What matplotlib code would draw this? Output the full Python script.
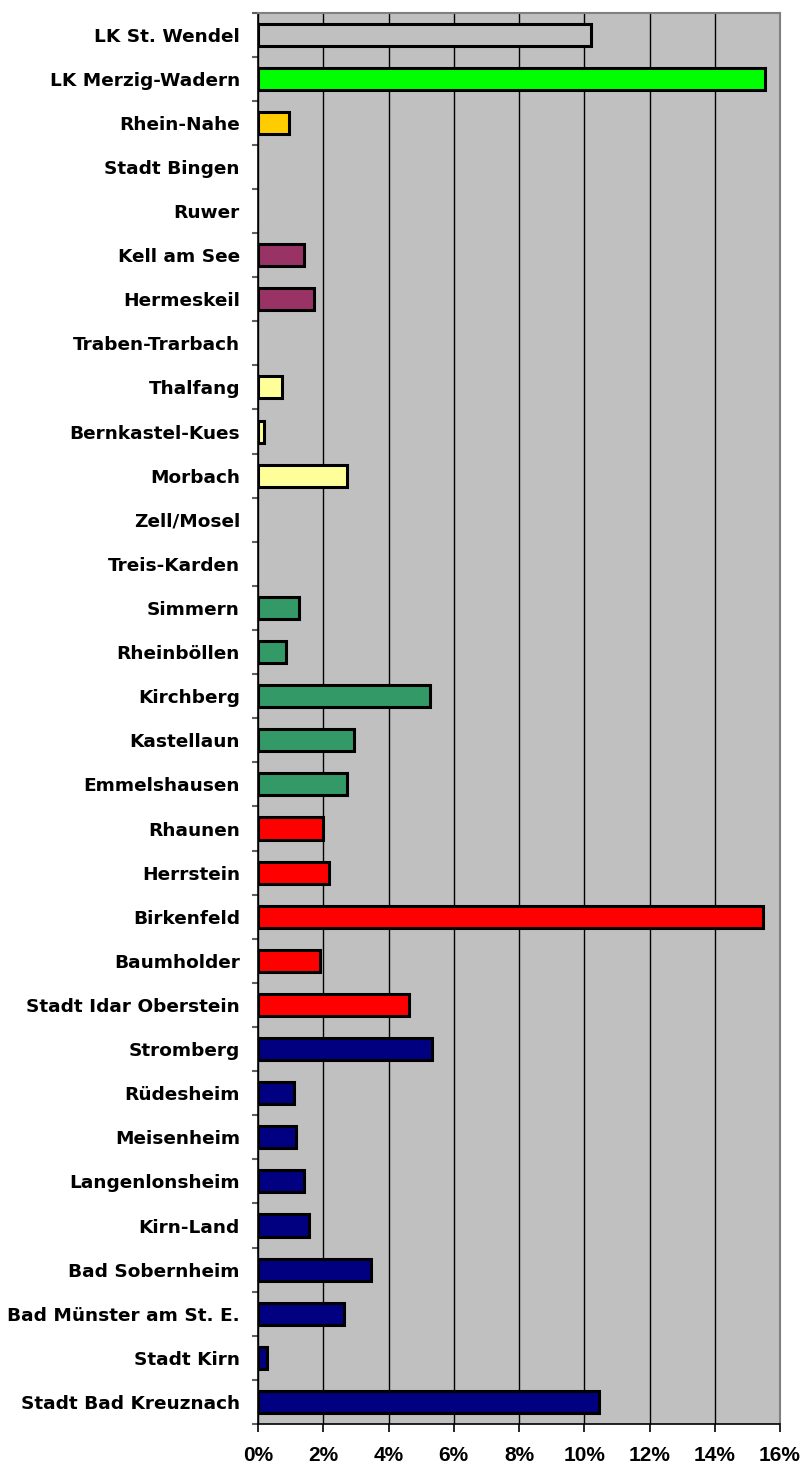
import numpy as np
import matplotlib.pyplot as plt
from matplotlib.ticker import FuncFormatter

# Kategorien (von oben nach unten) und Anteile in %
regions = ['LK St. Wendel', 'LK Merzig-Wadern', 'Rhein-Nahe', 'Stadt Bingen', 'Ruwer',
           'Kell am See', 'Hermeskeil', 'Traben-Trarbach', 'Thalfang', 'Bernkastel-Kues',
           'Morbach', 'Zell/Mosel', 'Treis-Karden', 'Simmern', 'Rheinböllen', 'Kirchberg',
           'Kastellaun', 'Emmelshausen', 'Rhaunen', 'Herrstein', 'Birkenfeld', 'Baumholder',
           'Stadt Idar Oberstein', 'Stromberg', 'Rüdesheim', 'Meisenheim', 'Langenlonsheim',
           'Kirn-Land', 'Bad Sobernheim', 'Bad Münster am St. E.', 'Stadt Kirn',
           'Stadt Bad Kreuznach']
values = [10.2, 15.54, 0.96, 0, 0,
          1.40, 1.73, 0, 0.73, 0.17,
          2.73, 0, 0, 1.27, 0.86, 5.27,
          2.95, 2.73, 1.99, 2.17, 15.49, 1.91,
          4.64, 5.32, 1.10, 1.15, 1.42,
          1.55, 3.47, 2.65, 0.28,
          10.44]
colors = ['#C0C0C0', '#00FF00', '#FFCC00', '#FFFFFF', '#FFFFFF',
          '#993366', '#993366', '#FFFF99', '#FFFF99', '#FFFF99',
          '#FFFF99', '#339966', '#339966', '#339966', '#339966', '#339966',
          '#339966', '#339966', '#FF0000', '#FF0000', '#FF0000', '#FF0000',
          '#FF0000', '#000080', '#000080', '#000080', '#000080',
          '#000080', '#000080', '#000080', '#000080',
          '#000080']
xticks = [0, 2, 4, 6, 8, 10, 12, 14, 16]

plt.rcParams['font.family'] = ['DejaVu Sans']
plt.rcParams['font.weight'] = 'bold'

fig = plt.figure(figsize=(8.02, 14.70), dpi=100)
ax = fig.add_axes([258 / 802, 1 - 1424 / 1470, 522 / 802, (1424 - 12.5) / 1470])
ax.set_facecolor('#C0C0C0')

y = np.arange(len(regions))
lw = [0 if v == 0 else 2.2 for v in values]
ax.barh(y, values, height=0.5, color=colors, edgecolor='black', linewidth=lw, zorder=3)

ax.set_xlim(0, 16)
ax.set_ylim(len(regions) - 0.5, -0.5)

ax.set_xticks(xticks)
ax.xaxis.set_major_formatter(FuncFormatter(lambda v, p: f'{v:.0f}%'))
ax.grid(axis='x', color='black', linewidth=1.0, zorder=1)

ax.set_yticks(y)
ax.set_yticklabels(regions)
ax.set_yticks(np.arange(-0.5, len(regions), 1), minor=True)
ax.tick_params(axis='y', which='major', length=0, pad=13, labelsize=13.3)
ax.tick_params(axis='y', which='minor', length=4.5, width=1.5, color='#606060')
ax.tick_params(axis='x', length=5.8, width=1.2, pad=10, labelsize=15,
               labelfontfamily='Liberation Sans')

for s in ['top', 'right']:
    ax.spines[s].set_color('#808080')
    ax.spines[s].set_linewidth(1.5)
for s in ['left', 'bottom']:
    ax.spines[s].set_color('black')
    ax.spines[s].set_linewidth(1.2)

fig.savefig('out.png', dpi=100)
